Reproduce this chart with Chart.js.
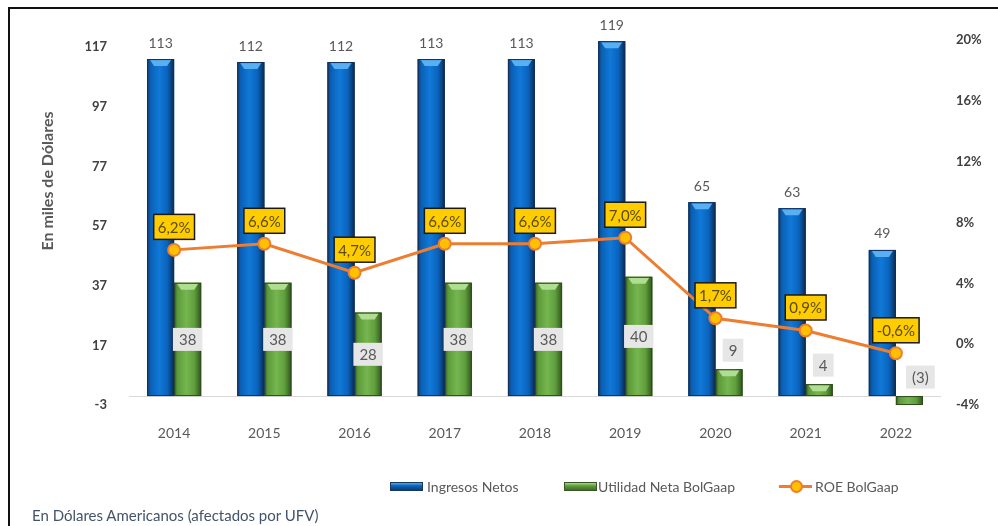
<!DOCTYPE html>
<html>
<head>
<meta charset="utf-8">
<script src="https://cdn.jsdelivr.net/npm/chart.js@4/dist/chart.umd.min.js"></script>
<style>
    html, body { margin: 0; padding: 0; background: #fff; }
    #wrap { position: relative; width: 998px; height: 526px; overflow: hidden; font-family: Lato, 'Open Sans', sans-serif; }
    #chart { position: absolute; left: 0; top: 0; }
    #frame { position: absolute; left: 8px; top: 7px; width: 1000px; height: 540px; border-top: 2px solid #111; border-left: 2px solid #111; pointer-events: none; }
    .leg { position: absolute; top: 477px; height: 20px; font-size: 14px; color: #595959; line-height: 20px; white-space: nowrap; }
    .sw { position: absolute; top: 5px; width: 33px; height: 9px; }
    .sw.blue { background: linear-gradient(to bottom, #4fa8ef, #0a63bd 40%, #0b3d73); border: 1px solid #17375e; box-sizing: border-box; }
    .sw.green { background: linear-gradient(to bottom, #a8d88a, #5f9e3c 40%, #3f6c27); border: 1px solid #375623; box-sizing: border-box; }
    .sw.line { top: 8px; height: 3px; background: #ed7d31; }
    .dot { position: absolute; top: -5px; left: 11px; width: 9px; height: 9px; border-radius: 50%; background: #ffc000; border: 2px solid #ed7d31; }
    #foot { position: absolute; left: 32px; top: 506px; font-size: 15px; color: #44546a; white-space: nowrap; }
</style>
</head>
<body>
<div id="wrap">
    <canvas id="chart" width="998" height="526"></canvas>
    <div id="frame"></div>
    <div class="leg" style="left:390px"><div class="sw blue" style="left:0"></div><span style="margin-left:37px">Ingresos Netos</span></div>
    <div class="leg" style="left:564px"><div class="sw green" style="left:0"></div><span style="margin-left:34px">Utilidad Neta BolGaap</span></div>
    <div class="leg" style="left:779px"><div class="sw line" style="left:0"><div class="dot"></div></div><span style="margin-left:36px">ROE BolGaap</span></div>
    <div id="foot">En Dólares Americanos (afectados por UFV)</div>
</div>
<script>
const years = ['2014', '2015', '2016', '2017', '2018', '2019', '2020', '2021', '2022'];
const ingresosNetos = [113, 112, 112, 113, 113, 119, 65, 63, 49];
const utilidadNeta = [38, 38, 28, 38, 38, 40, 9, 4, -3];
const roe = [6.2, 6.6, 4.7, 6.6, 6.6, 7.0, 1.7, 0.9, -0.6];
const leftTicks = [-3, 17, 37, 57, 77, 97, 117];

const FONT = "Lato, 'Open Sans', sans-serif";

const blueStops = [[0, '#17375e'], [0.12, '#0a5fb4'], [0.45, '#1079d8'], [0.75, '#0a63bd'], [0.92, '#0b3d73'], [1, '#0d2240']];
const greenStops = [[0, '#375623'], [0.12, '#5b9a38'], [0.45, '#76b650'], [0.75, '#5f9e3c'], [0.92, '#3f6c27'], [1, '#2b4a1a']];

// paints the cylinder look on top of each plain bar
const barLook = {
    id: 'barLook',
    afterDatasetDraw(chart, args) {
        const meta = args.meta;
        if (meta.type !== 'bar') return;
        const ctx = chart.ctx;
        const stops = args.index === 0 ? blueStops : greenStops;
        const cap = args.index === 0 ? '#58b0f2' : '#b0dd92';
        ctx.save();
        meta.data.forEach((bar, i) => {
            const p = bar.getProps(['x', 'y', 'base', 'width'], true);
            const left = p.x - p.width / 2;
            const top = Math.min(p.y, p.base);
            const h = Math.abs(p.base - p.y);
            const g = ctx.createLinearGradient(left, 0, left + p.width, 0);
            stops.forEach(s => g.addColorStop(s[0], s[1]));
            ctx.fillStyle = g;
            ctx.fillRect(left, top, p.width, h);
            if (p.y < p.base && h > 8) {
                ctx.fillStyle = cap;
                ctx.beginPath();
                ctx.moveTo(left + 3, top + 1);
                ctx.lineTo(left + p.width - 3, top + 1);
                ctx.lineTo(left + p.width - 7, top + 7);
                ctx.lineTo(left + 7, top + 7);
                ctx.closePath();
                ctx.fill();
            }
            ctx.strokeStyle = args.index === 0 ? '#14305a' : '#2f4d1d';
            ctx.lineWidth = 1;
            ctx.strokeRect(left + 0.5, top + 0.5, p.width - 1, h - 1);
        });
        ctx.restore();
    }
};

const baseLine = {
    id: 'baseLine',
    beforeDatasetsDraw(chart) {
        const ctx = chart.ctx;
        const y = Math.round(chart.scales.y.getPixelForValue(0)) + 0.5;
        ctx.save();
        ctx.strokeStyle = '#d9d9d9';
        ctx.lineWidth = 1;
        ctx.beginPath();
        ctx.moveTo(chart.chartArea.left, y);
        ctx.lineTo(chart.chartArea.right, y);
        ctx.stroke();
        ctx.restore();
    }
};

function box(ctx, text, cx, cy, fill, stroke, color, font, padX, h) {
    ctx.font = font;
    const w = ctx.measureText(text).width + padX * 2;
    ctx.fillStyle = fill;
    ctx.fillRect(cx - w / 2, cy - h / 2, w, h);
    if (stroke) {
        ctx.strokeStyle = stroke;
        ctx.lineWidth = 1.5;
        ctx.strokeRect(cx - w / 2, cy - h / 2, w, h);
    }
    ctx.fillStyle = color;
    ctx.textAlign = 'center';
    ctx.textBaseline = 'middle';
    ctx.fillText(text, cx, cy + 1);
}

const labels = {
    id: 'labels',
    afterDatasetsDraw(chart) {
        const ctx = chart.ctx;
        const yL = chart.scales.y;
        ctx.save();

        // ingresos netos above blue bars
        chart.getDatasetMeta(0).data.forEach((bar, i) => {
            ctx.font = '14px ' + FONT;
            ctx.fillStyle = '#595959';
            ctx.textAlign = 'center';
            ctx.textBaseline = 'middle';
            ctx.fillText(String(ingresosNetos[i]), bar.x, bar.y - 16);
        });

        // utilidad neta in grey boxes
        chart.getDatasetMeta(1).data.forEach((bar, i) => {
            const v = utilidadNeta[i];
            let cy;
            if (v >= 20) cy = yL.getPixelForValue(v / 2);
            else cy = yL.getPixelForValue(Math.max(v, 0)) - 19;
            let cx = bar.x;
            if (v < 0) cx += 11;
            else if (v < 20) cx += 4;
            const txt = v < 0 ? '(' + Math.abs(v) + ')' : String(v);
            box(ctx, txt, cx, cy, '#e7e6e6', null, '#595959', '15px ' + FONT, 6, 23);
        });

        // roe in yellow boxes
        chart.getDatasetMeta(2).data.forEach((pt, i) => {
            const txt = roe[i].toFixed(1).replace('.', ',') + '%';
            box(ctx, txt, pt.x, pt.y - 23, '#ffcc00', '#1a1a1a', '#5a4b10', '15px ' + FONT, 4, 25);
        });

        // axis title
        ctx.translate(48, 181);
        ctx.rotate(-Math.PI / 2);
        ctx.font = 'bold 16px ' + FONT;
        ctx.fillStyle = '#595959';
        ctx.textAlign = 'center';
        ctx.textBaseline = 'middle';
        ctx.fillText('En miles de Dólares', 0, 0);
        ctx.restore();
    }
};

new Chart(document.getElementById('chart'), {
    type: 'bar',
    data: {
        labels: years,
        datasets: [
            {
                label: 'Ingresos Netos',
                data: ingresosNetos,
                backgroundColor: '#0070c0',
                yAxisID: 'y',
                order: 1,
                categoryPercentage: 0.6,
                barPercentage: 1.0,
            },
            {
                label: 'Utilidad Neta BolGaap',
                data: utilidadNeta,
                backgroundColor: '#70ad47',
                yAxisID: 'y',
                order: 2,
                categoryPercentage: 0.6,
                barPercentage: 1.0,
            },
            {
                type: 'line',
                label: 'ROE BolGaap',
                data: roe,
                yAxisID: 'y1',
                order: 0,
                borderColor: '#ed7d31',
                borderWidth: 3,
                pointRadius: 6,
                pointBorderWidth: 2,
                pointBackgroundColor: '#ffc000',
                pointBorderColor: '#ed7d31',
                tension: 0,
            },
        ]
    },
    options: {
        responsive: false,
        animation: false,
        events: [],
        layout: { padding: { top: 40, bottom: 81, left: 0, right: 0 } },
        plugins: {
            legend: { display: false },
            tooltip: { enabled: false },
        },
        scales: {
            x: {
                grid: { display: false },
                border: { display: false },
                ticks: { color: '#595959', font: { family: FONT, size: 14 }, padding: 12 },
                afterFit: s => { s.height = 40; },
            },
            y: {
                position: 'left',
                min: -3,
                max: 119.4,
                grid: { display: false },
                border: { display: false },
                afterBuildTicks: s => { s.ticks = leftTicks.map(v => ({ value: v })); },
                ticks: { color: '#404040', font: { family: FONT, size: 13, weight: 'bold' }, padding: 14 },
                afterFit: s => { s.width = 129; },
            },
            y1: {
                position: 'right',
                min: -4,
                max: 20,
                grid: { display: false },
                border: { display: false },
                ticks: {
                    stepSize: 4,
                    color: '#404040',
                    font: { family: FONT, size: 13, weight: 'bold' },
                    padding: 7,
                    callback: v => v + '%',
                },
                afterFit: s => { s.width = 57; },
            }
        }
    },
    plugins: [baseLine, barLook, labels]
});
</script>
</body>
</html>
